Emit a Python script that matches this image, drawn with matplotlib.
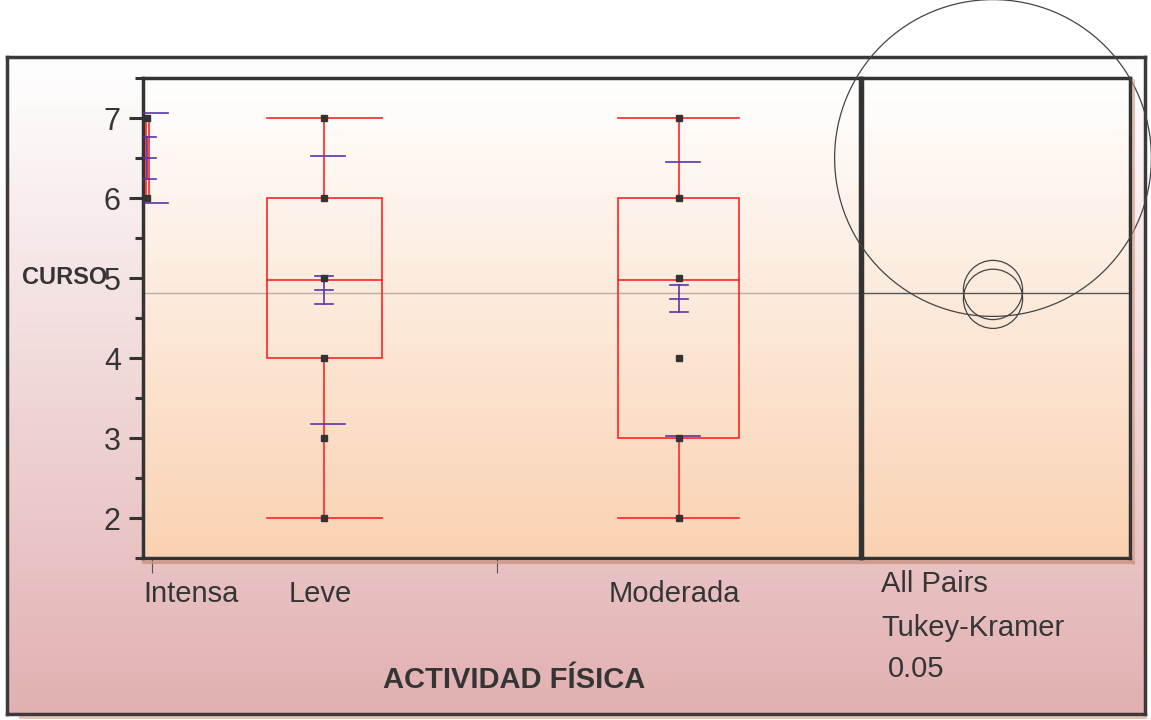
import numpy as np
import matplotlib
matplotlib.use("Agg")
import matplotlib.pyplot as plt
from matplotlib.colors import LinearSegmentedColormap
from matplotlib.patches import Circle, Rectangle
from matplotlib.lines import Line2D

# Data
groups = ["Intensa", "Leve", "Moderada"]
counts = [2, 77, 81]                     # group widths on the x axis
points = [[6, 7], [2, 3, 4, 5, 6, 7], [2, 3, 4, 5, 6, 7]]
q_min = [6, 2, 2]
q1 = [6, 4, 3]
median = [6.5, 4.98, 4.98]
q3 = [7, 6, 6]
q_max = [7, 7, 7]
means = [6.5, 4.85, 4.74]
mean_err = [0.26, 0.17, 0.17]           # mean error bars
std_dev = [0.565, 1.67, 1.71]           # std dev lines
circle_r = [1.98, 0.37, 0.37]           # comparison circle radii
grand_mean = 4.81

W, H = 1151, 720
TXT = "#353535"
plt.rcParams["font.family"] = ["Liberation Sans", "DejaVu Sans"]

fig = plt.figure(figsize=(W / 100, H / 100), dpi=100)


def box(l, t, r, b):
    return [l / W, 1 - b / H, (r - l) / W, (b - t) / H]


def gradient(ax, top, bottom):
    cmap = LinearSegmentedColormap.from_list("g", [bottom, top])
    ax.imshow(np.linspace(0, 1, 256).reshape(-1, 1), cmap=cmap, origin="lower",
              extent=[0, 1, 0, 1], transform=ax.transAxes, aspect="auto", zorder=0)


# outer frame
bg = fig.add_axes(box(7, 57, 1145, 714))
gradient(bg, "#ffffff", "#e2b0b1")
bg.set_xlim(0, 1)
bg.set_ylim(0, 1)
bg.set_xticks([])
bg.set_yticks([])
for s in bg.spines.values():
    s.set_color("#3a3a3a")
    s.set_linewidth(2.5)

# ruler-like strips
strip = "#cf937a"
fig.add_artist(Line2D([143 / W, 1133 / W], [1 - 562 / H] * 2, color=strip, lw=2.2, alpha=0.8))
fig.add_artist(Line2D([1133 / W] * 2, [1 - 80 / H, 1 - 563 / H], color=strip, lw=2, alpha=0.6))
fig.add_artist(Line2D([20 / W, 1145 / W], [1 - 717 / H] * 2, color=strip, lw=2, alpha=0.6))

# main panel
ax = fig.add_axes(box(143, 78, 860, 558))
gradient(ax, "#ffffff", "#fad2b2")
total = sum(counts)
ax.set_xlim(0, total)
ax.set_ylim(1.5, 7.5)

edges = np.concatenate([[0], np.cumsum(counts)])
centers = (edges[:-1] + edges[1:]) / 2
px = total / 717  # data units per pixel along x

red = "#ff2424"
purple = "#5a35a8"
for i, c in enumerate(centers):
    half = counts[i] / 6
    ax.add_patch(Rectangle((c - half, q1[i]), 2 * half, q3[i] - q1[i],
                           fill=False, ec=red, lw=1.2, zorder=3))
    ax.plot([c - half, c + half], [median[i]] * 2, color=red, lw=1.2, zorder=3)
    ax.plot([c - half, c + half], [q_min[i]] * 2, color=red, lw=1.2, zorder=3)
    ax.plot([c - half, c + half], [q_max[i]] * 2, color=red, lw=1.2, zorder=3)
    ax.plot([c, c], [q3[i], q_max[i]], color=red, lw=1.2, zorder=3)
    ax.plot([c, c], [q_min[i], q1[i]], color=red, lw=1.2, zorder=3)

    # std dev lines
    sc = c + 4 * px
    for y in (means[i] - std_dev[i], means[i] + std_dev[i]):
        ax.plot([sc - 17 * px, sc + 17 * px], [y, y], color=purple, lw=1.2, zorder=4)
    # mean error bars
    for y in (means[i] - mean_err[i], means[i], means[i] + mean_err[i]):
        ax.plot([c - 9 * px, c + 9 * px], [y, y], color=purple, lw=1.2, zorder=4)
    ax.plot([c, c], [means[i] - mean_err[i], means[i] + mean_err[i]],
            color=purple, lw=1.2, zorder=4)

    ax.plot([c] * len(points[i]), points[i], "s", color="#333333", ms=5, zorder=5)

ax.axhline(grand_mean, color="#b8afa8", lw=1, zorder=2)

ax.set_yticks([2, 3, 4, 5, 6, 7])
ax.set_yticks(np.arange(1.5, 7.6, 0.5), minor=True)
ax.tick_params(axis="y", which="major", length=10, width=2.2, color="#333333",
               labelsize=22, labelcolor=TXT, pad=6)
ax.tick_params(axis="y", which="minor", length=5.5, width=2.2, color="#333333")
ax.set_xticks(edges[1:-1])
ax.set_xticklabels([])
ax.tick_params(axis="x", length=11, width=0.8, color="#555555", direction="out", pad=0)
for s in ax.spines.values():
    s.set_color("#333333")
    s.set_linewidth(2.5)

for i, c in enumerate(centers):
    if i == 0:
        ax.text(0, -0.076, groups[i], transform=ax.get_xaxis_transform(),
                ha="left", va="center", fontsize=21, color=TXT)
    else:
        ax.text(c - 4 * px, -0.076, groups[i], transform=ax.get_xaxis_transform(),
                ha="center", va="center", fontsize=21, color=TXT)

# comparison circles panel
axr = fig.add_axes(box(862, 78, 1130, 558))
gradient(axr, "#ffffff", "#fad2b2")
axr.set_ylim(1.5, 7.5)
units = 268 / 80
left = 131 / 80
axr.set_xlim(-left, units - left)
axr.set_xticks([])
axr.set_yticks([])
for s in axr.spines.values():
    s.set_color("#333333")
    s.set_linewidth(2.5)
axr.axhline(grand_mean, color="#555555", lw=1, zorder=2)
for m, r in zip(means, circle_r):
    axr.add_patch(Circle((0, m), r, fill=False, ec="#444444", lw=0.9,
                         clip_on=False, zorder=6))

# labels
fig.text(22 / W, 1 - 277 / H, "CURSO", fontsize=17, fontweight="bold",
         color=TXT, ha="left", va="center")
fig.text(514 / W, 1 - 680 / H, "ACTIVIDAD FÍSICA", fontsize=21, fontweight="bold",
         color=TXT, ha="center", va="center")
fig.text(881 / W, 1 - 584 / H, "All Pairs", fontsize=21, color=TXT, ha="left", va="center")
fig.text(881 / W, 1 - 628 / H, "Tukey-Kramer", fontsize=21, color=TXT, ha="left", va="center")
fig.text(888 / W, 1 - 669 / H, "0.05", fontsize=21, color=TXT, ha="left", va="center")

fig.savefig("out.png", dpi=100)
